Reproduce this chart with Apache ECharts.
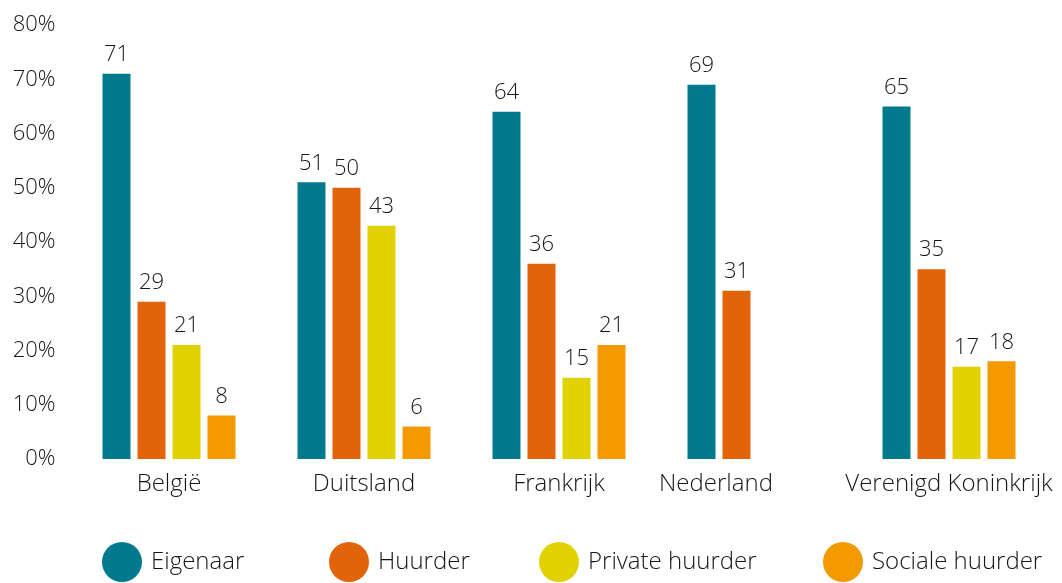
<!DOCTYPE html>
<html>
<head>
<meta charset="utf-8">
<script src="https://cdn.jsdelivr.net/npm/echarts@6/dist/echarts.min.js"></script>
<style>
html,body{margin:0;padding:0;background:#fff;}
#chart{width:1062px;height:583px;}
</style>
</head>
<body>
<div id="chart"></div>
<script>
const categories = ['België', 'Duitsland', 'Frankrijk', 'Nederland', 'Verenigd Koninkrijk'];
const seriesNames = ['Eigenaar', 'Huurder', 'Private huurder', 'Sociale huurder'];
const eigenaar = [71, 51, 64, 69, 65];
const huurder = [29, 50, 36, 31, 35];
const privateHuurder = [21, 43, 15, null, 17];
const socialeHuurder = [8, 6, 21, null, 18];
const yTicks = [0, 10, 20, 30, 40, 50, 60, 70, 80];

const colors = ['#007A8C', '#E2640A', '#DFD200', '#F39A00'];
const FONT = '"Open Sans", "Noto Sans", sans-serif';
const TXT = '#161616';
const FW = 300;

const values = [eigenaar, huurder, privateHuurder, socialeHuurder];

const chart = echarts.init(document.getElementById('chart'), null, {renderer: 'canvas'});

const legendLefts = [102, 329, 539, 823];
const legends = seriesNames.map((n, i) => ({
  data: [n],
  left: legendLefts[i],
  top: 542,
  icon: 'circle',
  itemWidth: 40,
  itemHeight: 40,
  itemGap: 0,
  padding: 0,
  selectedMode: false,
  textStyle: {fontFamily: FONT, fontSize: 24, fontWeight: FW, color: TXT, padding: [0, 0, 0, 4]}
}));

const option = {
  animation: false,
  color: colors,
  textStyle: {fontFamily: FONT},
  grid: {left: 71.5, right: 15.5, top: 25, bottom: 124, containLabel: false},
  legend: legends,
  xAxis: {
    type: 'category',
    data: categories.map(c => c === 'Nederland'
      ? {value: c, textStyle: {padding: [0, 76, 0, 0]}}
      : c),
    axisLine: {show: false},
    axisTick: {show: false},
    axisLabel: {fontFamily: FONT, fontSize: 24, fontWeight: FW, color: TXT, margin: 13, interval: 0}
  },
  yAxis: {
    type: 'value',
    min: yTicks[0],
    max: yTicks[yTicks.length - 1],
    interval: 10,
    splitLine: {show: false},
    axisLine: {show: false},
    axisTick: {show: false},
    axisLabel: {fontFamily: FONT, fontSize: 22, fontWeight: FW, color: TXT, margin: 16, formatter: '{value}%'}
  },
  series: seriesNames.map((n, i) => ({
    name: n,
    type: 'bar',
    data: values[i],
    barWidth: 28,
    barGap: '25%',
    itemStyle: {color: colors[i]},
    label: {
      show: true,
      position: 'top',
      distance: 8,
      fontFamily: FONT,
      fontSize: 22,
      fontWeight: FW,
      color: TXT
    }
  }))
};
chart.setOption(option);
</script>
</body>
</html>
